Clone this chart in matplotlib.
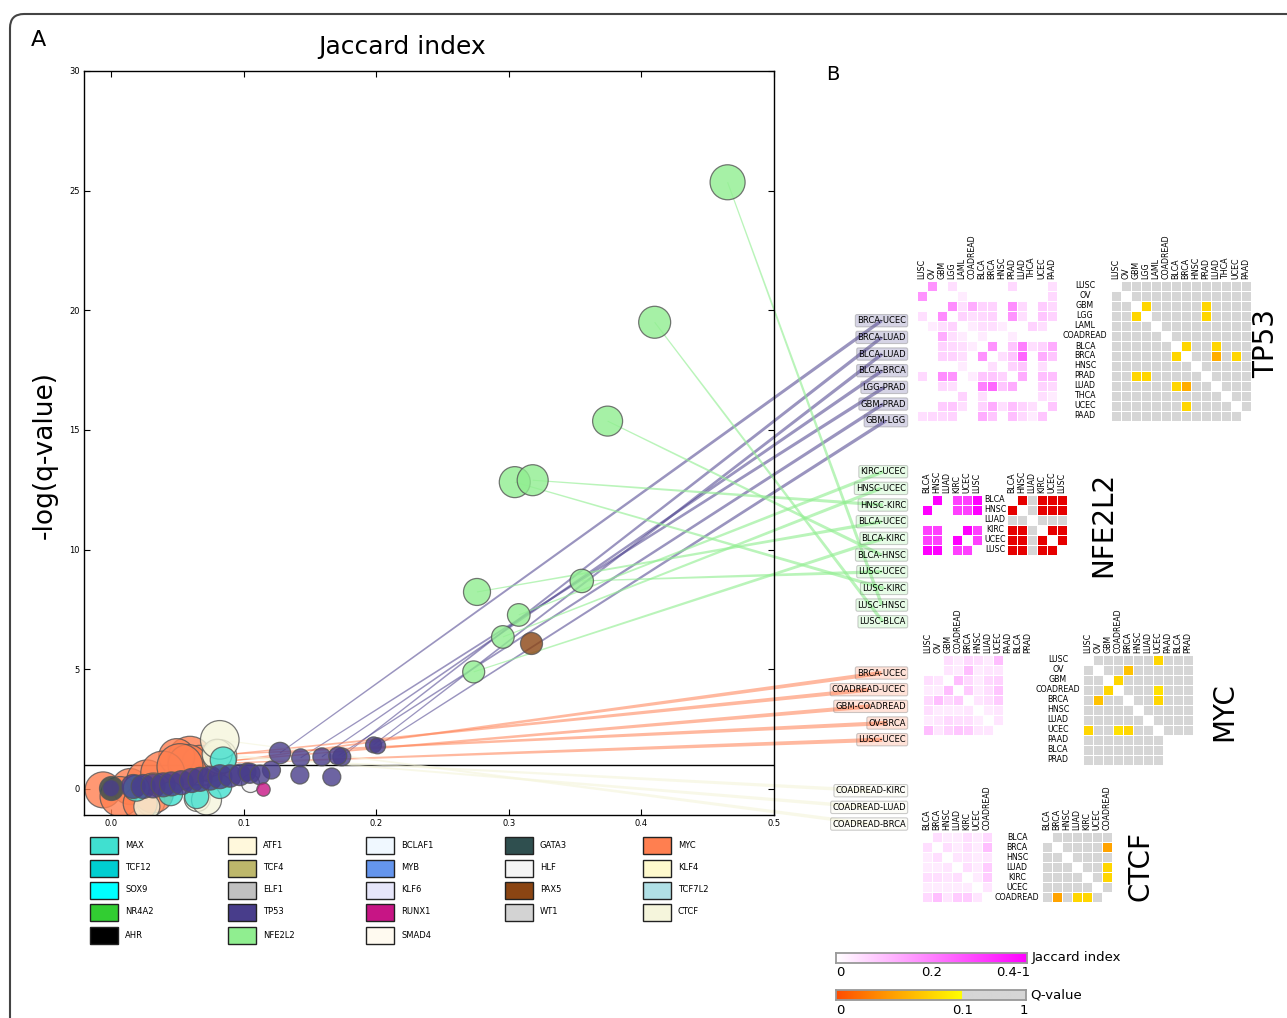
import matplotlib
matplotlib.use("Agg")
import matplotlib.pyplot as plt
import numpy as np
from matplotlib.colors import LinearSegmentedColormap, Normalize, to_rgba
from matplotlib.patches import Rectangle, FancyBboxPatch, Polygon
from matplotlib.transforms import IdentityTransform

W, H = 1287, 1018

# ---------------- panel A bubbles: Jaccard index, -log(q), bubble area
tp53_x = [0.1274, 0.174, 0.198, 0.159, 0.143, 0.171, 0.201,
          0.121, 0.1025, 0.1424, 0.1665,
          0.0, 0.0167, 0.0242, 0.0317, 0.0393, 0.0456, 0.053, 0.0607,
          0.0671, 0.0746, 0.0821, 0.0897, 0.0972, 0.1047, 0.1123]
tp53_y = [1.50, 1.34, 1.84, 1.34, 1.30, 1.38, 1.80,
          0.79, 0.71, 0.58, 0.50,
          0.03, 0.10, 0.10, 0.125, 0.17, 0.21, 0.26, 0.35,
          0.40, 0.45, 0.51, 0.54, 0.585, 0.655, 0.585]
tp53_s = [237, 168, 133, 168, 168, 168, 133,
          168, 168, 168, 168,
          150, 298, 298, 298, 298, 298, 298, 298,
          298, 298, 298, 260, 237, 210, 200]

nfe2l2_x = [0.465, 0.410, 0.3745, 0.3045, 0.318, 0.276, 0.355, 0.3075, 0.2955, 0.2735]
nfe2l2_y = [25.35, 19.5, 15.37, 12.82, 12.9, 8.23, 8.69, 7.27, 6.35, 4.89]
nfe2l2_s = [635, 530, 466, 498, 498, 378, 284, 265, 265, 251]

myc_x = [0.075, 0.0595, 0.067, 0.0495, 0.058,
         -0.006, 0.0143, 0.027, 0.039, 0.052, 0.0068, 0.032, 0.022]
myc_y = [1.05, 1.28, 1.07, 1.35, 1.02,
         -0.04, 0.10, 0.376, 0.66, 0.93, -0.32, -0.17, -0.60]
myc_s = [671, 1003, 671, 671, 829,
         671, 671, 829, 1003, 1096, 829, 829, 599]

ctcf_x = [0.082, 0.080, 0.082, 0.072, 0.027]
ctcf_y = [1.35, 1.45, 2.05, -0.46, -0.74]
ctcf_s = [599, 466, 772, 466, 350]

max_x = [0.0846, 0.019, 0.0646, 0.082, 0.045]
max_y = [1.21, 0.03, -0.32, 0.10, -0.20]
max_s = [350, 350, 298, 298, 298]

atf1_x = [0.030, 0.065]
atf1_y = [-0.55, -0.40]
atf1_s = [406, 350]

gata3_x, gata3_y, gata3_s = [0.0], [0.03], [298]
hlf_x, hlf_y, hlf_s = [0.105], [0.25], [168]
runx1_x, runx1_y, runx1_s = [0.1148], [-0.01], [93]
pax5_x, pax5_y, pax5_s = [0.3165], [6.1], [251]

legend_genes = ["MAX", "TCF12", "SOX9", "NR4A2", "AHR",
                "ATF1", "TCF4", "ELF1", "TP53", "NFE2L2",
                "BCLAF1", "MYB", "KLF6", "RUNX1", "SMAD4",
                "GATA3", "HLF", "PAX5", "WT1",
                "MYC", "KLF4", "TCF7L2", "CTCF"]
legend_colors = ["turquoise", "darkturquoise", "cyan", "limegreen", "black",
                 "cornsilk", "darkkhaki", "silver", "darkslateblue", "lightgreen",
                 "aliceblue", "cornflowerblue", "lavender", "mediumvioletred", "floralwhite",
                 "darkslategray", "whitesmoke", "saddlebrown", "lightgray",
                 "coral", "lemonchiffon", "powderblue", "beige"]
legend_col_sizes = [5, 5, 5, 4, 4]
gene_color = dict(zip(legend_genes, legend_colors))

# significant pairs and the bubble each one belongs to
tp53_pairs = ["BRCA-UCEC", "BRCA-LUAD", "BLCA-LUAD", "BLCA-BRCA", "LGG-PRAD", "GBM-PRAD", "GBM-LGG"]
tp53_pair_idx = [0, 1, 2, 3, 4, 5, 6]
nfe2l2_pairs = ["KIRC-UCEC", "HNSC-UCEC", "HNSC-KIRC", "BLCA-UCEC", "BLCA-KIRC",
                "BLCA-HNSC", "LUSC-UCEC", "LUSC-KIRC", "LUSC-HNSC", "LUSC-BLCA"]
nfe2l2_pair_idx = [7, 8, 4, 5, 9, 2, 6, 3, 0, 1]
myc_pairs = ["BRCA-UCEC", "COADREAD-UCEC", "GBM-COADREAD", "OV-BRCA", "LUSC-UCEC"]
myc_pair_idx = [0, 1, 2, 3, 4]
ctcf_pairs = ["COADREAD-KIRC", "COADREAD-LUAD", "COADREAD-BRCA"]
ctcf_pair_idx = [0, 1, 2]

# ---------------- panel B matrices (upper triangle: i, j, value)
tp53_types = ["LUSC", "OV", "GBM", "LGG", "LAML", "COADREAD", "BLCA", "BRCA",
              "HNSC", "PRAD", "LUAD", "THCA", "UCEC", "PAAD"]
tp53_jac = [(0, 1, .17), (0, 3, .05), (0, 9, .06), (0, 13, .05),
            (1, 4, .03), (1, 13, .06),
            (2, 3, .18), (2, 4, .05), (2, 5, .13), (2, 6, .07), (2, 7, .07), (2, 9, .18),
            (2, 10, .06), (2, 12, .08), (2, 13, .06),
            (3, 4, .07), (3, 5, .05), (3, 6, .06), (3, 7, .07), (3, 9, .17), (3, 10, .05),
            (3, 12, .09), (3, 13, .07),
            (4, 5, .03), (4, 6, .05), (4, 7, .05), (4, 8, .03), (4, 11, .07), (4, 12, .05),
            (5, 6, .03), (5, 9, .03),
            (6, 7, .17), (6, 9, .09), (6, 10, .20), (6, 11, .05), (6, 12, .07), (6, 13, .13),
            (7, 8, .05), (7, 9, .09), (7, 10, .24), (7, 12, .13), (7, 13, .09),
            (8, 9, .07), (8, 10, .09), (8, 12, .05),
            (9, 10, .13), (9, 12, .10), (9, 13, .10),
            (10, 12, .07), (10, 13, .06), (11, 12, .05), (11, 13, .03), (12, 13, .09)]
tp53_q = [(2, 3, .08), (2, 9, .08), (3, 9, .08), (6, 7, .08),
          (6, 10, .08), (7, 10, .06), (7, 12, .08)]

nfe2l2_types = ["BLCA", "HNSC", "LUAD", "KIRC", "UCEC", "LUSC"]
nfe2l2_jac = [(0, 1, .50), (0, 3, .30), (0, 4, .30), (0, 5, .45),
              (1, 3, .30), (1, 4, .30), (1, 5, .45),
              (3, 4, .40), (3, 5, .30), (4, 5, .30)]
nfe2l2_q = [(0, 1, 0.0), (0, 3, 0.0), (0, 4, 0.0), (0, 5, 0.0),
            (1, 3, 0.0), (1, 4, 0.0), (1, 5, 0.0),
            (3, 4, 0.0), (3, 5, 0.0), (4, 5, 0.0)]

myc_types = ["LUSC", "OV", "GBM", "COADREAD", "BRCA", "HNSC", "LUAD", "UCEC",
             "PAAD", "BLCA", "PRAD"]
myc_jac = [(0, 2, .05), (0, 3, .03), (0, 4, .06), (0, 5, .05), (0, 6, .03), (0, 7, .10),
           (1, 2, .04), (1, 3, .03), (1, 4, .10), (1, 5, .03), (1, 6, .04), (1, 7, .04),
           (2, 3, .10), (2, 4, .06), (2, 5, .03), (2, 6, .06), (2, 7, .07),
           (3, 4, .08), (3, 5, .03), (3, 6, .05), (3, 7, .09),
           (4, 5, .04), (4, 6, .05), (4, 7, .08), (5, 6, .03), (5, 7, .04), (6, 7, .04)]
myc_q = [(0, 7, .08), (1, 4, .07), (2, 3, .08), (3, 7, .085), (4, 7, .08)]
myc_no_data = 8   # PAAD, BLCA, PRAD have no pairs among themselves

ctcf_types = ["BLCA", "BRCA", "HNSC", "LUAD", "KIRC", "UCEC", "COADREAD"]
ctcf_jac = [(0, 1, .05), (0, 2, .03), (0, 3, .03), (0, 4, .05), (0, 5, .03), (0, 6, .06),
            (1, 2, .05), (1, 3, .03), (1, 4, .05), (1, 5, .03), (1, 6, .10),
            (2, 3, .04), (2, 4, .04), (2, 5, .03), (2, 6, .04),
            (3, 4, .05), (3, 5, .03), (3, 6, .08), (4, 5, .03), (4, 6, .08), (5, 6, .04)]
ctcf_q = [(1, 6, .055), (3, 6, .08), (4, 6, .08)]


def sym_matrix(n, pairs, fill):
    m = np.full((n, n), fill, dtype=float)
    for i, j, v in pairs:
        m[i, j] = m[j, i] = v
    np.fill_diagonal(m, np.nan)
    return m


def px_axes(x0, y0, x1, y1):
    return fig.add_axes([x0 / W, 1 - y1 / H, (x1 - x0) / W, (y1 - y0) / H])


def px_text(x, y, s, **kw):
    return fig.text(x / W, 1 - y / H, s, **kw)


jac_cmap = LinearSegmentedColormap.from_list("jac", ["#ffffff", "#ff00ff"])
jac_cmap.set_over("#ff00ff")
jac_norm = Normalize(0, 0.4)
q_cmap = LinearSegmentedColormap.from_list(
    "qval", [(0, "#e60000"), (0.15, "#ff4c00"), (0.5, "#ff9900"), (1, "#ffff00")])
q_gray = "#d6d6d6"
q_cmap.set_over(q_gray)
q_norm = Normalize(0, 0.1)

fig = plt.figure(figsize=(W / 100, H / 100), dpi=100)

# rounded frame around the whole figure
frame = FancyBboxPatch((10, -60), 1400, H - 14 + 60,
                       boxstyle="round,pad=0,rounding_size=14",
                       transform=IdentityTransform(), fill=False,
                       ec="#444444", lw=1.5)
fig.add_artist(frame)

# ---------------- panel A
ax = px_axes(84, 71, 774, 815)
ax.set_xlim(-0.0204, 0.5)
ax.set_ylim(-1.09, 30)
ax.set_xticks([0.0, 0.1, 0.2, 0.3, 0.4, 0.5])
ax.set_xticklabels(["0.0", "0.1", "0.2", "0.3", "0.4", "0.5"])
ax.set_yticks(range(0, 31, 5))
ax.tick_params(direction="in", top=True, right=True, labelsize=6,
               length=4, width=0.8, pad=3)
for sp in ax.spines.values():
    sp.set_linewidth(1.0)
ax.axhline(1, color="black", lw=1.0, zorder=1)

bubble_groups = [("ATF1", atf1_x, atf1_y, atf1_s),
                 ("MYC", myc_x, myc_y, myc_s),
                 ("CTCF", ctcf_x, ctcf_y, ctcf_s),
                 ("MAX", max_x, max_y, max_s),
                 ("GATA3", gata3_x, gata3_y, gata3_s),
                 ("HLF", hlf_x, hlf_y, hlf_s),
                 ("TP53", tp53_x, tp53_y, tp53_s),
                 ("RUNX1", runx1_x, runx1_y, runx1_s),
                 ("NFE2L2", nfe2l2_x, nfe2l2_y, nfe2l2_s),
                 ("PAX5", pax5_x, pax5_y, pax5_s)]
for gene, gx, gy, gs in bubble_groups:
    ax.scatter(gx, gy, s=gs, c=[gene_color[gene]], alpha=0.8,
               edgecolors="#555555", linewidths=0.9, zorder=2)

px_text(38, 40, "A", fontsize=16, ha="center", va="center")
px_text(402, 47, "Jaccard index", fontsize=18, ha="center", va="center")
px_text(45, 455, "-log(q-value)", fontsize=19, ha="center", va="center", rotation=90)

# legend
row_y = [845, 868, 890, 912, 935]
col_x = [90, 228, 366, 505, 643]
k = 0
for c, n in enumerate(legend_col_sizes):
    for r in range(n):
        fig.add_artist(Rectangle(((col_x[c]) / W, 1 - (row_y[r] + 8.5) / H), 28 / W, 17 / H,
                                 transform=fig.transFigure, fc=legend_colors[k],
                                 ec="#222222", lw=1.0))
        px_text(col_x[c] + 35, row_y[r], legend_genes[k], fontsize=6, ha="left", va="center")
        k += 1

# ---------------- panel B
px_text(833, 75, "B", fontsize=14, ha="center", va="center")

blocks = [
    dict(gene="TP53", types=tp53_types, jac=tp53_jac, q=tp53_q, pairs=tp53_pairs,
         idx=tp53_pair_idx, gx=tp53_x, gy=tp53_y, jx=917, qx=1111, top=281, rowx=1085,
         name=(1266, 343), label_top=320.7, alpha=0.55, width=3.4),
    dict(gene="NFE2L2", types=nfe2l2_types, jac=nfe2l2_jac, q=nfe2l2_q, pairs=nfe2l2_pairs,
         idx=nfe2l2_pair_idx, gx=nfe2l2_x, gy=nfe2l2_y, jx=922, qx=1007, top=495, rowx=995,
         name=(1103, 524), label_top=471.7, alpha=0.62, width=3.4),
    dict(gene="MYC", types=myc_types, jac=myc_jac, q=myc_q, pairs=myc_pairs,
         idx=myc_pair_idx, gx=myc_x, gy=myc_y, jx=923, qx=1083, top=655, rowx=1058,
         name=(1224, 712), label_top=673.0, alpha=0.55, width=4.2),
    dict(gene="CTCF", types=ctcf_types, jac=ctcf_jac, q=ctcf_q, pairs=ctcf_pairs,
         idx=ctcf_pair_idx, gx=ctcf_x, gy=ctcf_y, jx=922, qx=1042, top=832, rowx=1017,
         name=(1141, 866), label_top=790.7, alpha=0.65, width=3.6),
]

cell = 10
links = []
for b in blocks:
    n = len(b["types"])
    jm = sym_matrix(n, b["jac"], 0.0)
    qm = sym_matrix(n, b["q"], 0.5)
    if b["gene"] == "MYC":
        qm[myc_no_data:, myc_no_data:] = np.nan
    for x0, m, cmap, norm in [(b["jx"], jm, jac_cmap, jac_norm),
                              (b["qx"], qm, q_cmap, q_norm)]:
        hx = px_axes(x0, b["top"], x0 + n * cell, b["top"] + n * cell)
        hx.pcolormesh(np.ma.masked_invalid(m), cmap=cmap, norm=norm,
                      edgecolors="white", linewidth=0.5)
        hx.set_xlim(0, n)
        hx.set_ylim(n, 0)
        hx.axis("off")
        for j, t in enumerate(b["types"]):
            hx.text(j + 0.5, -0.2, t, rotation=90, ha="center", va="bottom", fontsize=5.7)
    for i, t in enumerate(b["types"]):
        px_text(b["rowx"], b["top"] + (i + 0.5) * cell, t, fontsize=5.7,
                ha="center", va="center")
    px_text(b["name"][0], b["name"][1], b["gene"], fontsize=20, rotation=90,
            ha="center", va="center")

    # pair labels
    color = gene_color[b["gene"]]
    for k, (pair, i) in enumerate(zip(b["pairs"], b["idx"])):
        ly = b["label_top"] + k * 16.67
        t = px_text(906, ly, pair, ha="right", va="center", fontsize=6, zorder=3,
                    bbox=dict(boxstyle="round,pad=0.2", fc=to_rgba(color, 0.22),
                              ec=(0.5, 0.5, 0.5, 0.4), lw=0.8))
        links.append((t, b["gx"][i], b["gy"][i], color, b["alpha"], b["width"]))

# tapered links from each bubble to the middle of its pair label
fig.canvas.draw()
renderer = fig.canvas.get_renderer()
for t, x, y, color, alpha, width in links:
    bb = t.get_window_extent(renderer)
    end = np.array([(bb.x0 + bb.x1) / 2, (bb.y0 + bb.y1) / 2])
    start = ax.transData.transform((x, y))
    d = end - start
    d = d / np.hypot(*d)
    nv = np.array([-d[1], d[0]])
    head = 1.1
    verts = [start + nv * head / 2, end + nv * width / 2,
             end - nv * width / 2, start - nv * head / 2]
    poly = Polygon(verts, closed=True, transform=IdentityTransform(),
                   fc=color, ec="none", alpha=alpha, zorder=1.5)
    ax.add_patch(poly)
    poly.set_clip_on(False)

# colour keys
jbar = px_axes(836, 953, 1027, 963)
jbar.imshow(np.linspace(0, 0.4, 256)[None, :], cmap=jac_cmap, norm=jac_norm, aspect="auto")
qbar = px_axes(836, 990, 1026, 1000)
p = np.linspace(0, 1, 300)
qcols = np.array([q_cmap(0.15 + 0.85 * v / 0.665) if v < 0.665 else to_rgba(q_gray)
                  for v in p])
qbar.imshow(qcols[None, :, :], aspect="auto")
for bar in (jbar, qbar):
    bar.set_xticks([])
    bar.set_yticks([])
    for sp in bar.spines.values():
        sp.set_color("#999999")
        sp.set_linewidth(1.3)

px_text(1032, 957, "Jaccard index", fontsize=9.5, ha="left", va="center")
px_text(840, 972, "0", fontsize=9.5, ha="center", va="center")
px_text(932, 972, "0.2", fontsize=9.5, ha="center", va="center")
px_text(1013, 972, "0.4-1", fontsize=9.5, ha="center", va="center")
px_text(1030, 995, "Q-value", fontsize=9.5, ha="left", va="center")
px_text(840, 1010, "0", fontsize=9.5, ha="center", va="center")
px_text(963, 1010, "0.1", fontsize=9.5, ha="center", va="center")
px_text(1024, 1010, "1", fontsize=9.5, ha="center", va="center")

fig.savefig("out.png", dpi=100)
